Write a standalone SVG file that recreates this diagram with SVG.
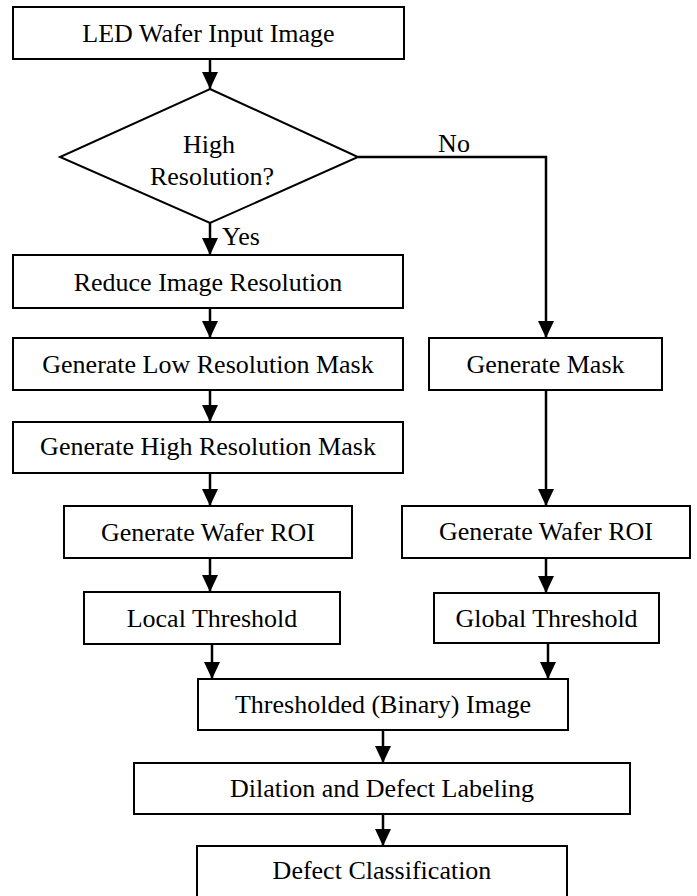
<svg xmlns="http://www.w3.org/2000/svg" width="697" height="896" viewBox="0 0 697 896">
<defs>
<style>
.box{fill:#fff;stroke:#000;stroke-width:2}
.lbl{font-family:'Liberation Serif','Times New Roman',Times,'Nimbus Roman','DejaVu Serif',serif;font-size:26px;fill:#000;text-anchor:middle}
.con{fill:none;stroke:#000;stroke-width:2.5}
</style>
<marker id="ah" markerUnits="userSpaceOnUse" markerWidth="18" markerHeight="18" viewBox="0 0 18 18" refX="17" refY="9" orient="auto">
<path d="M0,1 L17,9 L0,17 Z" fill="#000"/>
</marker>
</defs>
<rect width="697" height="896" fill="#fff"/>
<g id="connectors">
<line class="con" x1="210" y1="59" x2="210" y2="89" marker-end="url(#ah)"/>
<line class="con" x1="210" y1="223" x2="210" y2="255" marker-end="url(#ah)"/>
<line class="con" x1="210" y1="308" x2="210" y2="338" marker-end="url(#ah)"/>
<line class="con" x1="210" y1="390" x2="210" y2="422" marker-end="url(#ah)"/>
<line class="con" x1="210" y1="473" x2="210" y2="506" marker-end="url(#ah)"/>
<line class="con" x1="210" y1="558" x2="210" y2="592" marker-end="url(#ah)"/>
<line class="con" x1="212" y1="644" x2="212" y2="679" marker-end="url(#ah)"/>
<polyline class="con" points="358,157 546,157 546,338" marker-end="url(#ah)"/>
<line class="con" x1="546" y1="390" x2="546" y2="506" marker-end="url(#ah)"/>
<line class="con" x1="546" y1="558" x2="546" y2="593" marker-end="url(#ah)"/>
<line class="con" x1="548" y1="643" x2="548" y2="679" marker-end="url(#ah)"/>
<line class="con" x1="383" y1="730" x2="383" y2="763" marker-end="url(#ah)"/>
<line class="con" x1="383" y1="814" x2="383" y2="846" marker-end="url(#ah)"/>
<text class="lbl" x="222" y="245" style="text-anchor:start">Yes</text>
<text class="lbl" x="454" y="152">No</text>
</g>
<g id="n-input"><rect class="box" x="13" y="7" width="391" height="52"/><text class="lbl" x="208.5" y="42">LED Wafer Input Image</text></g>
<g id="n-decision"><polygon class="box" points="210,89 358,157 210,223 60,157"/><text class="lbl" x="209" y="153">High</text><text class="lbl" x="212" y="185">Resolution?</text></g>
<g id="n-reduce"><rect class="box" x="13" y="255" width="390" height="53"/><text class="lbl" x="208" y="291">Reduce Image Resolution</text></g>
<g id="n-lowmask"><rect class="box" x="13" y="338" width="390" height="52"/><text class="lbl" x="208" y="373">Generate Low Resolution Mask</text></g>
<g id="n-highmask"><rect class="box" x="13" y="422" width="390" height="51"/><text class="lbl" x="208" y="455">Generate High Resolution Mask</text></g>
<g id="n-roi-left"><rect class="box" x="64" y="506" width="288" height="52"/><text class="lbl" x="208" y="541">Generate Wafer ROI</text></g>
<g id="n-local"><rect class="box" x="84" y="592" width="256" height="52"/><text class="lbl" x="212" y="627">Local Threshold</text></g>
<g id="n-mask"><rect class="box" x="429" y="338" width="233" height="52"/><text class="lbl" x="545.5" y="373">Generate Mask</text></g>
<g id="n-roi-right"><rect class="box" x="402" y="506" width="288" height="52"/><text class="lbl" x="546" y="540">Generate Wafer ROI</text></g>
<g id="n-global"><rect class="box" x="434" y="593" width="225" height="50"/><text class="lbl" x="546.5" y="627">Global Threshold</text></g>
<g id="n-binary"><rect class="box" x="198" y="679" width="370" height="51"/><text class="lbl" x="383" y="713">Thresholded (Binary) Image</text></g>
<g id="n-dilation"><rect class="box" x="134" y="763" width="496" height="51"/><text class="lbl" x="382" y="797">Dilation and Defect Labeling</text></g>
<g id="n-classify"><rect class="box" x="197" y="846" width="370" height="52"/><text class="lbl" x="382" y="879">Defect Classification</text></g>
</svg>
